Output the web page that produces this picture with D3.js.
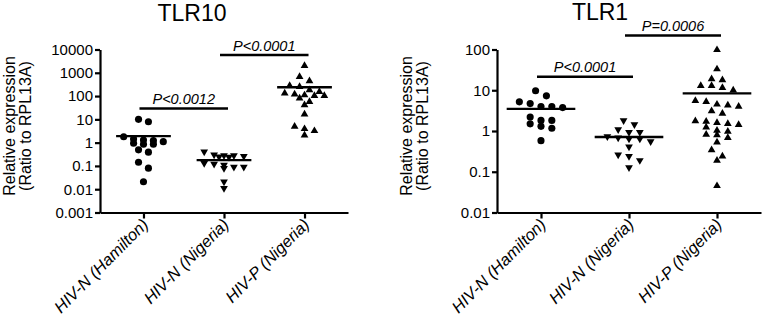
<!DOCTYPE html>
<html lang="en">
<head>
  <meta charset="UTF-8">
  <title>TLR10 and TLR1 relative expression</title>
  <style>
  body { margin: 0; background: #fff; }
  #chart svg text { font-family: "Liberation Sans", Arial, sans-serif; fill: #000; }
  #chart .axis path, #chart .axis line { stroke: #000; stroke-width: 2.2px; fill: none; }
  #chart .axis text { font-size: 15px; }
  #chart .title { font-size: 23px; }
  #chart .ylabel { font-size: 16px; }
  #chart .pval { font-size: 14.5px; font-style: italic; }
  #chart .xlabel { font-size: 16.5px; font-style: italic; }
  </style>
</head>
<body>
  <div id="chart"></div>
  <script src="https://d3js.org/d3.v7.min.js"></script>
  <script>
// groups on the x axis, same for both panels
var groups = ["HIV-N (Hamilton)", "HIV-N (Nigeria)", "HIV-P (Nigeria)"];

// TLR10 values (ratio to RPL13A)
var tlr10HamiltonN = [10, 7.9, 1.8, 1.44, 1.3, 1.22, 1.1, 0.94, 0.85, 0.85, 0.49, 0.39, 0.144, 0.08, 0.021];
var tlr10NigeriaN  = [0.41, 0.30, 0.28, 0.28, 0.26, 0.25, 0.24, 0.13, 0.12, 0.11, 0.09, 0.09, 0.08, 0.021, 0.011];
var tlr10NigeriaP  = [2000, 680, 445, 280, 253, 182, 155, 132, 120, 110, 104, 104, 80, 57, 41, 16.5, 4.9, 3.9, 3.2, 2.1];

// TLR1 values
var tlr1HamiltonN = [9.7, 7.3, 5.2, 4.7, 4.0, 4.0, 3.75, 2.2, 1.82, 1.82, 1.5, 1.3, 1.17, 0.58];
var tlr1NigeriaN  = [1.82, 1.45, 1.09, 0.93, 0.93, 0.73, 0.68, 0.64, 0.64, 0.55, 0.41, 0.26, 0.24, 0.19, 0.127];
var tlr1NigeriaP  = [98, 33, 18.8, 17.8, 12.9, 12.9, 11.5, 10, 5.5, 5.2, 4.5, 4.3, 4.0, 3.1, 2.7, 1.75, 1.72,
                     1.6, 1.5, 1.42, 1.24, 1.03, 0.97, 0.82, 0.8, 0.68, 0.53, 0.34, 0.24, 0.19, 0.045];

// y ticks
var tlr10Ticks = [0.001, 0.01, 0.1, 1, 10, 100, 1000, 10000];
var tlr10TickLabels = ["0.001", "0.01", "0.1", "1", "10", "100", "1000", "10000"];
var tlr1Ticks = [0.01, 0.1, 1, 10, 100];
var tlr1TickLabels = ["0.01", "0.1", "1", "10", "100"];

// significance brackets: group pairs, bracket level (in data units) and text
var tlr10SigPairs = [[0, 1], [1, 2]];
var tlr10SigLevels = [29, 5800];
var tlr10SigLabels = ["P<0.0012", "P<0.0001"];
var tlr1SigPairs = [[0, 1], [1, 2]];
var tlr1SigLevels = [21.5, 222];
var tlr1SigLabels = ["P<0.0001", "P=0.0006"];

var symbolTypes = ["circle", "down", "up"];

var w = 765, h = 319;
var plotTop = 49.5, plotBottom = 212.5;

var svg = d3.select("#chart").append("svg")
    .attr("width", w)
    .attr("height", h);

var panels = [
  { title: "TLR10", titleX: 192, titleY: 20.5, left: 100, right: 348, pad: 0.54, meanW: 0.68,
    ticks: tlr10Ticks, tickLabels: tlr10TickLabels,
    series: [tlr10HamiltonN, tlr10NigeriaN, tlr10NigeriaP],
    sigPairs: tlr10SigPairs, sigLevels: tlr10SigLevels, sigLabels: tlr10SigLabels },
  { title: "TLR1", titleX: 600, titleY: 19.5, left: 497, right: 761, pad: 0.5, meanW: 0.78,
    ticks: tlr1Ticks, tickLabels: tlr1TickLabels,
    series: [tlr1HamiltonN, tlr1NigeriaN, tlr1NigeriaP],
    sigPairs: tlr1SigPairs, sigLevels: tlr1SigLevels, sigLabels: tlr1SigLabels }
];

// GraphPad style scatter: points close in y share a row and are spread sideways
function swarm(values, y, maxCols, gap) {
  var pts = values.map(function(v) { return { v: v, py: y(v) }; })
                  .sort(function(a, b) { return a.py - b.py; });
  var rows = [], row = null;
  pts.forEach(function(p) {
    if (!row || p.py - row[0].py > gap || row.length >= maxCols) { row = []; rows.push(row); }
    row.push(p);
  });
  rows.forEach(function(r) {
    r.forEach(function(p, i) { p.col = i - (r.length - 1) / 2; });
  });
  return pts;
}

panels.forEach(function(p) {
  var g = svg.append("g");

  var y = d3.scaleLog()
            .domain([p.ticks[0], p.ticks[p.ticks.length - 1]])
            .range([plotBottom, plotTop]);
  var x = d3.scalePoint()
            .domain(groups)
            .range([p.left, p.right])
            .padding(p.pad);
  var step = x.step();

  //Y axis
  g.append("g")
      .attr("class", "axis")
      .attr("transform", "translate(" + p.left + ",0)")
      .call(d3.axisLeft(y)
              .tickValues(p.ticks)
              .tickFormat(function(d, i) { return p.tickLabels[i]; })
              .tickSize(5)
              .tickSizeOuter(0)
              .tickPadding(2));

  //X axis
  g.append("g")
      .attr("class", "axis")
      .attr("transform", "translate(0," + plotBottom + ")")
      .call(d3.axisBottom(x).tickSize(6).tickSizeOuter(0).tickFormat(""));

  // rotated category labels
  g.selectAll(".xlabel")
      .data(groups).enter()
      .append("text")
      .attr("class", "xlabel")
      .attr("text-anchor", "end")
      .attr("transform", function(d) {
        return "translate(" + (x(d) + 6) + "," + (plotBottom + 13) + ") rotate(-45)";
      })
      .text(function(d) { return d; });

  // y axis title, two lines
  var yl = g.append("text")
      .attr("class", "ylabel")
      .attr("transform", "rotate(-90)")
      .attr("text-anchor", "middle");
  yl.append("tspan").attr("x", -126).attr("y", p.left - 85).text("Relative expression");
  yl.append("tspan").attr("x", -126).attr("y", p.left - 69).text("(Ratio to RPL13A)");

  // panel title
  g.append("text")
      .attr("class", "title")
      .attr("x", p.titleX)
      .attr("y", p.titleY)
      .attr("text-anchor", "middle")
      .text(p.title);

  // points
  var spacing = 0.123 * step;
  p.series.forEach(function(vals, gi) {
    var cx = x(groups[gi]);
    var pts = swarm(vals, y, 5, 6.5);
    var type = symbolTypes[gi];
    var sym = d3.symbol()
                .type(type === "circle" ? d3.symbolCircle : d3.symbolTriangle)
                .size(type === "circle" ? 40 : 26);
    g.append("g").selectAll("path")
        .data(pts).enter()
        .append("path")
        .attr("d", sym)
        .attr("fill", "#000")
        .attr("transform", function(d) {
          return "translate(" + (cx + d.col * spacing) + "," + d.py + ")" + (type === "down" ? " rotate(180)" : "");
        });

    // mean line
    var m = d3.mean(vals);
    g.append("line")
        .attr("x1", cx - p.meanW * step / 2)
        .attr("x2", cx + p.meanW * step / 2)
        .attr("y1", y(m))
        .attr("y2", y(m))
        .attr("stroke", "#000")
        .attr("stroke-width", 2.3);
  });

  // significance brackets
  p.sigPairs.forEach(function(pair, i) {
    var x1 = x(groups[pair[0]]) - 4, x2 = x(groups[pair[1]]) + 4;
    var yy = y(p.sigLevels[i]);
    g.append("line")
        .attr("x1", x1).attr("x2", x2)
        .attr("y1", yy).attr("y2", yy)
        .attr("stroke", "#000")
        .attr("stroke-width", 2.5);
    g.append("text")
        .attr("class", "pval")
        .attr("x", (x1 + x2) / 2)
        .attr("y", yy - 4.5)
        .attr("text-anchor", "middle")
        .text(p.sigLabels[i]);
  });
});
  </script>
</body>
</html>
